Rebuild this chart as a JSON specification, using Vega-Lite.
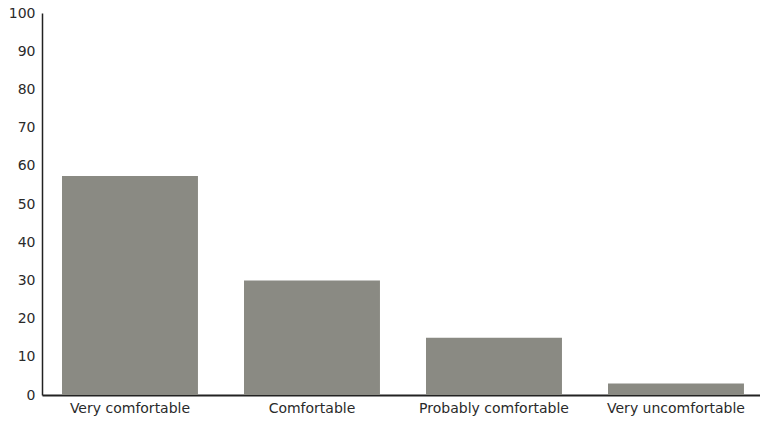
{
  "$schema": "https://vega.github.io/schema/vega-lite/v6.json",
  "autosize": "none",
  "width": 718,
  "height": 382,
  "padding": {"left": 42, "top": 13, "right": 0, "bottom": 29},
  "background": "white",
  "config": {"view": {"stroke": null}, "font": "DejaVu Sans"},
  "data": {"values": [
    {"response": "Very comfortable", "percent": 57.3},
    {"response": "Comfortable", "percent": 30},
    {"response": "Probably comfortable", "percent": 15},
    {"response": "Very uncomfortable", "percent": 3}
  ]},
  "mark": {"type": "bar", "color": "#8a8a83"},
  "encoding": {
    "x": {
      "field": "response", "type": "nominal", "sort": null,
      "scale": {"paddingInner": 0.253, "paddingOuter": 0.099, "align": 0.555},
      "axis": {"title": null, "labelAngle": 0, "ticks": false, "labelPadding": 6, "labelFontSize": 14, "labelColor": "#2a2a2a", "domainColor": "#222", "domainWidth": 2, "grid": false}
    },
    "y": {
      "field": "percent", "type": "quantitative",
      "scale": {"domain": [0, 100], "nice": false},
      "axis": {"title": null, "values": [0,10,20,30,40,50,60,70,80,90,100], "ticks": false, "labelPadding": 7, "labelFontSize": 14, "labelColor": "#2a2a2a", "domainColor": "#222", "domainWidth": 1.5, "grid": false}
    }
  }
}
